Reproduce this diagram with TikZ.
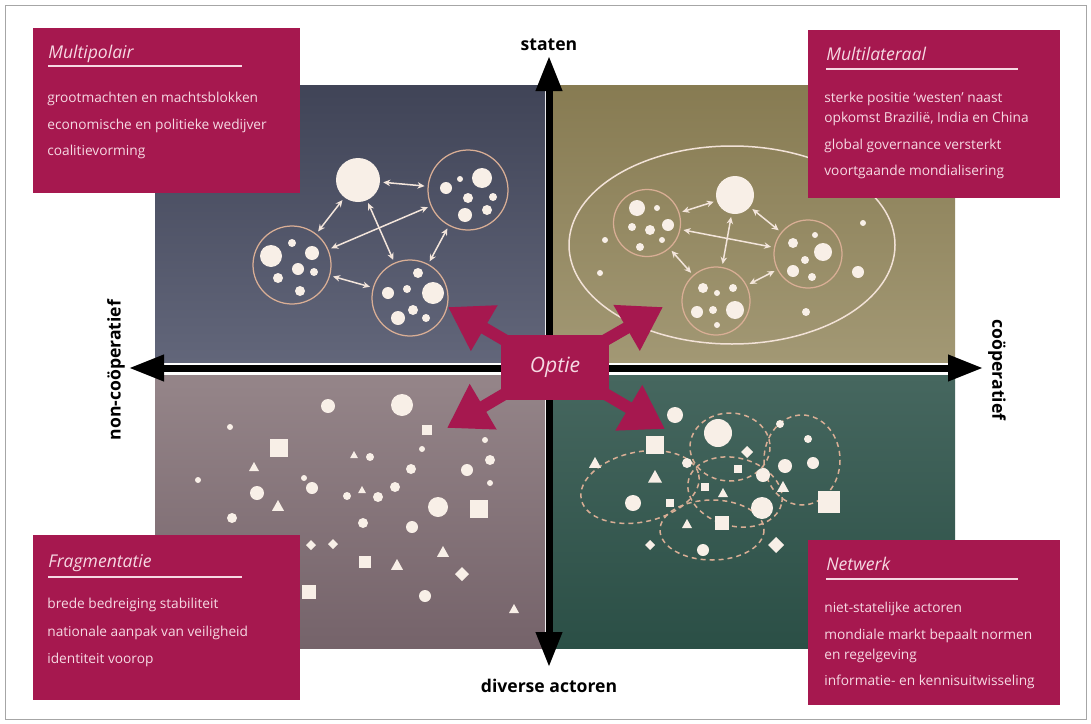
\documentclass[tikz,border=0pt]{standalone}
\usepackage{fontspec}
\setmainfont{Open Sans}
\usetikzlibrary{arrows.meta}

\definecolor{optred}{HTML}{A6184F}
\definecolor{boxtext}{HTML}{F6D9E3}
\definecolor{tlcol}{HTML}{404457}
\definecolor{tllight}{HTML}{62667A}
\definecolor{trcol}{HTML}{877B52}
\definecolor{trlight}{HTML}{A29874}
\definecolor{blcol}{HTML}{75636A}
\definecolor{bllight}{HTML}{958589}
\definecolor{brcol}{HTML}{2B4F46}
\definecolor{brlight}{HTML}{46675F}
\definecolor{dotcol}{HTML}{F8EFE7}
\definecolor{ring}{HTML}{D9AE95}

\begin{document}
\begin{tikzpicture}[
  x=0.2mm, y=-0.2mm,
  font=\fontsize{8}{11.5}\selectfont,
  scbox/.style={fill=optred, anchor=north west, inner sep=0pt},
  sctitle/.style={anchor=base west, inner sep=0pt, text=boxtext, font=\fontsize{10}{12}\selectfont\itshape},
  sctext/.style={anchor=north west, inner sep=0pt, align=left, text=boxtext, font=\fontsize{7.8}{11.5}\selectfont},
  scline/.style={draw=boxtext, line width=0.3mm},
  axislabel/.style={font=\fontsize{10}{12}\selectfont\bfseries, inner sep=1pt},
  mainaxis/.style={line width=1.4mm, black, {Triangle[length=7mm, width=5mm]}-{Triangle[length=7mm, width=5mm]}},
  optbox/.style={fill=optred, minimum width=21.5mm, minimum height=13mm, inner sep=0pt, text=boxtext, font=\fontsize{12}{14}\selectfont\itshape},
  optarrow/.style={line width=2.4mm, optred, -{Triangle[length=8.4mm, width=10mm]}},
  cluster/.style={circle, draw=ring, line width=0.25mm, inner sep=0pt},
  bigdot/.style={circle, fill=dotcol, inner sep=0pt},
  link/.style={draw=dotcol!85!ring, line width=0.3mm, {Stealth[length=1.4mm, width=1.3mm]}-{Stealth[length=1.4mm, width=1.3mm]}, shorten <=0.6mm, shorten >=0.6mm},
  dotfill/.style={fill=dotcol},
  netring/.style={draw=ring, line width=0.3mm, dash pattern=on 1mm off 0.8mm},
  hullring/.style={draw=dotcol!80!ring, line width=0.3mm},
]
\useasboundingbox (0,0) rectangle (1091,724);
\fill[white] (0,0) rectangle (1091,724);
\draw[gray!70, line width=0.2mm] (5,5) rectangle (1086,719);

% quadrants
\shade[top color=tlcol, bottom color=tllight] (155,85) rectangle (545,362);
\shade[top color=trcol, bottom color=trlight] (553,85) rectangle (955,362);
\shade[top color=bllight, bottom color=blcol] (155,375) rectangle (545,648);
\shade[top color=brlight, bottom color=brcol] (553,375) rectangle (955,648);

% multipolair: blocks
\node[bigdot, minimum size=8.8mm] (tlbig) at (358,180) {};
\node[cluster, minimum size=16mm] (tlright) at (468,190) {};
\node[cluster, minimum size=15.6mm] (tlleft) at (292,265) {};
\node[cluster, minimum size=15.2mm] (tlbottom) at (410,298) {};
\foreach \x/\y/\r in {482/178/10, 446/188/6, 460/179/3, 468/198/5, 493/197/4, 465/215/7, 487/210/5,
  271/256/11, 292/243/4, 312/253/7, 298/269/6, 314/272/4, 278/278/5, 300/291/5,
  433/293/11, 418/273/5, 388/293/6, 407/289/4, 413/310/5, 398/318/7, 426/318/4}
  \fill[dotfill] (\x,\y) circle[radius=\r*0.2mm];
\draw[link] (tlbig) -- (tlright);
\draw[link] (tlbig) -- (tlleft);
\draw[link] (tlbig) -- (tlbottom);
\draw[link] (tlleft) -- (tlright);
\draw[link] (tlleft) -- (tlbottom);
\draw[link] (tlright) -- (tlbottom);

% multilateraal: blocks inside one hull
\draw[hullring] (732,245) ellipse[x radius=163, y radius=99];
\node[bigdot, minimum size=7.6mm] (trbig) at (735,195) {};
\node[cluster, minimum size=13.4mm] (trleft) at (647,223) {};
\node[cluster, minimum size=13.6mm] (trright) at (808,254) {};
\node[cluster, minimum size=13.6mm] (trbottom) at (716,301) {};
\foreach \x/\y/\r in {637/208/8, 657/208/3, 632/227/4, 650/230/5, 668/225/6, 662/240/3, 640/247/4,
  823/252/9, 793/243/5, 815/235/3, 805/260/4, 793/271/6, 812/277/4,
  735/310/9, 703/288/5, 717/293/3, 733/288/4, 697/312/6, 713/310/4, 717/325/3,
  605/240/3, 600/273/3, 863/223/3, 858/272/6, 806/312/4}
  \fill[dotfill] (\x,\y) circle[radius=\r*0.2mm];
\draw[link] (trbig) -- (trleft);
\draw[link] (trbig) -- (trright);
\draw[link] (trbig) -- (trbottom);
\draw[link] (trleft) -- (trright);
\draw[link] (trleft) -- (trbottom);
\draw[link] (trright) -- (trbottom);

% fragmentatie: loose actors
\foreach \x/\y/\r in {402/405/11, 328/406/7, 230/427/3, 257/493/7, 312/488/6, 304/478/3, 198/480/3,
  232/518/5, 347/496/4, 370/457/4, 378/497/5, 395/487/5, 411/469/5, 422/449/3, 438/507/10,
  467/470/6, 490/460/5, 485/440/3, 490/483/3, 363/523/5, 412/527/6, 425/596/6}
  \fill[dotfill] (\x,\y) circle[radius=\r*0.2mm];
\foreach \x/\y/\s in {279/448/9, 427/430/5, 479/509/9, 365/562/6, 309/592/7}
  \fill[dotfill] (\x-\s,\y-\s) rectangle (\x+\s,\y+\s);
\foreach \x/\y/\s in {254/467/5, 278/506/6, 354/455/4, 362/490/4, 397/565/6, 443/552/6, 514/609/5}
  \fill[dotfill] (\x,\y-\s) -- (\x+\s,\y+0.8*\s) -- (\x-\s,\y+0.8*\s) -- cycle;
\foreach \x/\y/\s in {311/545/5, 333/544/5, 462/574/7}
  \fill[dotfill] (\x,\y-\s) -- (\x+\s,\y) -- (\x,\y+\s) -- (\x-\s,\y) -- cycle;

% netwerk: overlapping groups
\draw[netring, rotate around={12:(640,487)}] (640,487) ellipse[x radius=60, y radius=35];
\draw[netring] (730,447) ellipse[x radius=40, y radius=34];
\draw[netring] (802,460) ellipse[x radius=38, y radius=45];
\draw[netring, rotate around={-15:(735,492)}] (735,492) ellipse[x radius=48, y radius=34];
\draw[netring] (712,530) ellipse[x radius=52, y radius=30];
\foreach \x/\y/\r in {675/415/8, 718/433/14, 687/463/5, 808/439/4, 785/466/7, 813/463/6, 763/475/7,
  762/508/11, 633/503/8, 703/550/6, 780/424/4}
  \fill[dotfill] (\x,\y) circle[radius=\r*0.2mm];
\foreach \x/\y/\s in {655/445/9, 705/487/4, 670/503/4, 722/523/7, 829/502/11, 738/469/4}
  \fill[dotfill] (\x-\s,\y-\s) rectangle (\x+\s,\y+\s);
\foreach \x/\y/\s in {595/463/6, 655/477/7, 723/493/5, 783/487/6, 687/524/5}
  \fill[dotfill] (\x,\y-\s) -- (\x+\s,\y+0.8*\s) -- (\x-\s,\y+0.8*\s) -- cycle;
\foreach \x/\y/\s in {776/545/8, 650/545/5, 747/452/6}
  \fill[dotfill] (\x,\y-\s) -- (\x+\s,\y) -- (\x,\y+\s) -- (\x-\s,\y) -- cycle;

% axes
\coordinate (vtop) at (549,56);
\coordinate (vbot) at (549,667);
\coordinate (hleft) at (129,368);
\coordinate (hright) at (983,368);
\draw[mainaxis] (vbot) -- (vtop);
\draw[mainaxis] (hleft) -- (hright);
\node[axislabel] (staten) at (549,45) {staten};
\node[axislabel] (diverse) at (549,686) {diverse actoren};
\node[axislabel, rotate=90] (noncoop) at (116,370) {non-coöperatief};
\node[axislabel, rotate=-90] (coop) at (997,370) {coöperatief};

% scenario boxes
\node[scbox, minimum width=53.4mm, minimum height=33mm] (mpbox) at (33,28) {};
\node[sctitle] (mptitle) at (48,58) {Multipolair};
\draw[scline] ([yshift=-1.6mm]mptitle.base west) -- ++(194,0);
\node[sctext] (mptext) at (47,92) {grootmachten en machtsblokken\\[3.5pt]economische en politieke wedijver\\[3.5pt]coalitievorming};

\node[scbox, minimum width=50.4mm, minimum height=33.6mm] (mlbox) at (808,30) {};
\node[sctitle] (mltitle) at (826,60) {Multilateraal};
\draw[scline] ([yshift=-1.8mm]mltitle.base west) -- ++(192,0);
\node[sctext] (mltext) at (824,92) {sterke positie ‘westen’ naast\\opkomst Brazilië, India en China\\[3.5pt]global governance versterkt\\[3.5pt]voortgaande mondialisering};

\node[scbox, minimum width=53.4mm, minimum height=33mm] (frbox) at (33,535) {};
\node[sctitle] (frtitle) at (48,567) {Fragmentatie};
\draw[scline] ([yshift=-2mm]frtitle.base west) -- ++(194,0);
\node[sctext] (frtext) at (47,598) {brede bedreiging stabiliteit\\[4pt]nationale aanpak van veiligheid\\[4pt]identiteit voorop};

\node[scbox, minimum width=50.4mm, minimum height=33mm] (nwbox) at (808,540) {};
\node[sctitle] (nwtitle) at (826,570) {Netwerk};
\draw[scline] ([yshift=-1.8mm]nwtitle.base west) -- ++(192,0);
\node[sctext] (nwtext) at (824,602) {niet-statelijke actoren\\[3.5pt]mondiale markt bepaalt normen\\en regelgeving\\[3.5pt]informatie- en kennisuitwisseling};

% optie in the middle
\node[optbox] (optie) at (555,367) {};
\coordinate (tipnw) at (448,307);
\coordinate (tipne) at (663,307);
\coordinate (tipsw) at (447,428);
\coordinate (tipse) at (665,429);
\draw[optarrow] ([shift={(9,9)}]optie.north west) -- (tipnw);
\draw[optarrow] ([shift={(-9,9)}]optie.north east) -- (tipne);
\draw[optarrow] ([shift={(9,-9)}]optie.south west) -- (tipsw);
\draw[optarrow] ([shift={(-9,-9)}]optie.south east) -- (tipse);
\node[optbox] (optietext) at (optie) {Optie};
\end{tikzpicture}
\end{document}
